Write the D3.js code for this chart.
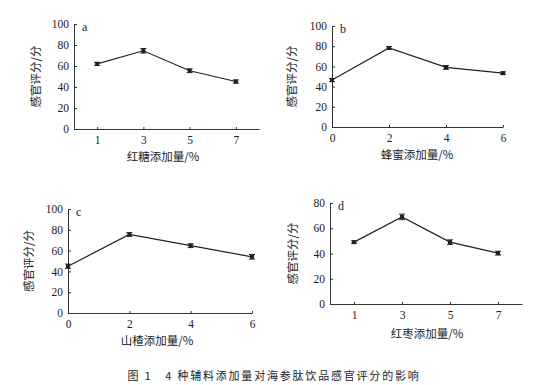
<!DOCTYPE html>
<html>
<head>
<meta charset="utf-8">
<script src="https://cdn.jsdelivr.net/npm/d3@7"></script>
<style>
  body { margin: 0; background: #fff; }
  svg text { fill: #222; }
  .num { font-family: "Liberation Serif", "Times New Roman", serif; font-size: 11px; }
  .cjk { font-family: "Noto Sans CJK SC", sans-serif; font-size: 11.5px; }
</style>
</head>
<body>
<svg id="chart" width="554" height="385"></svg>
<script>
// 数据
const sugarX = [1, 3, 5, 7];
const sugarY = [62, 74.5, 55.5, 45.2];
const sugarErr = [1.5, 2.2, 1.8, 1.5];

const honeyX = [0, 2, 4, 6];
const honeyY = [46.5, 78.3, 59, 53.3];
const honeyErr = [1.6, 1.2, 1.8, 1.2];

const hawX = [0, 2, 4, 6];
const hawY = [45, 75.5, 64.7, 54];
const hawErr = [2, 1.8, 1.8, 2.2];

const dateX = [1, 3, 5, 7];
const dateY = [49, 69, 49, 40.3];
const dateErr = [1, 2.2, 1.8, 1.5];

const yTicks100 = [0, 20, 40, 60, 80, 100];
const yTicks80 = [0, 20, 40, 60, 80];

const yTitle = '感官评分/分';
const caption = '图 1　4 种辅料添加量对海参肽饮品感官评分的影响';

// 面板布局
const panels = [
  { letter: 'a', xs: sugarX, ys: sugarY, err: sugarErr, xMax: 8, yMax: 100, yTicks: yTicks100,
    xTitle: '红糖添加量/%', left: 74, right: 259, top: 24, bottom: 129, yTitleX: 40, xTitleX: 163, xTitleDy: 32 },
  { letter: 'b', xs: honeyX, ys: honeyY, err: honeyErr, xMax: 6, yMax: 100, yTicks: yTicks100,
    xTitle: '蜂蜜添加量/%', left: 332, right: 503, top: 26, bottom: 127, yTitleX: 296, xTitleX: 417, xTitleDy: 32 },
  { letter: 'c', xs: hawX, ys: hawY, err: hawErr, xMax: 6, yMax: 100, yTicks: yTicks100,
    xTitle: '山楂添加量/%', left: 68, right: 252, top: 209, bottom: 313, yTitleX: 33, xTitleX: 157, xTitleDy: 32 },
  { letter: 'd', xs: dateX, ys: dateY, err: dateErr, xMax: 8, yMax: 80, yTicks: yTicks80,
    xTitle: '红枣添加量/%', left: 330, right: 522, top: 203, bottom: 304, yTitleX: 297, xTitleX: 427, xTitleDy: 34 }
];

const svg = d3.select('#chart');

panels.forEach(p => drawPanel(p));

svg.append('text')
  .attr('class', 'cjk')
  .attr('x', 274)
  .attr('y', 380)
  .attr('text-anchor', 'middle')
  .style('font-size', '11px')
  .style('letter-spacing', '1.8px')
  .text(caption);

function drawPanel(p) {
  const g = svg.append('g');
  const x = d3.scaleLinear().domain([0, p.xMax]).range([p.left, p.right]);
  const y = d3.scaleLinear().domain([0, p.yMax]).range([p.bottom, p.top]);

  // 坐标轴
  const xAxis = g.append('g')
    .attr('transform', `translate(0,${p.bottom})`)
    .call(d3.axisBottom(x).tickValues(p.xs).tickFormat(d3.format('d'))
      .tickSizeInner(-2).tickSizeOuter(0).tickPadding(7));
  const yAxis = g.append('g')
    .attr('transform', `translate(${p.left},0)`)
    .call(d3.axisLeft(y).tickValues(p.yTicks).tickFormat(d3.format('d'))
      .tickSizeInner(-3).tickSizeOuter(0).tickPadding(5));

  [xAxis, yAxis].forEach(a => {
    a.selectAll('path, line').attr('stroke', '#333').attr('stroke-width', 1);
    a.selectAll('text').attr('class', 'num').attr('fill', '#222').style('font-size', '11.5px');
    a.attr('font-family', null).attr('font-size', null);
  });

  // 折线
  const pts = p.xs.map((v, i) => [v, p.ys[i], p.err[i]]);
  g.append('path')
    .datum(pts)
    .attr('fill', 'none')
    .attr('stroke', '#222')
    .attr('stroke-width', 1.2)
    .attr('d', d3.line().x(d => x(d[0])).y(d => y(d[1])));

  // 误差线
  const eb = g.append('g').selectAll('g').data(pts).enter().append('g');
  eb.append('line')
    .attr('x1', d => x(d[0])).attr('x2', d => x(d[0]))
    .attr('y1', d => y(d[1] - d[2])).attr('y2', d => y(d[1] + d[2]))
    .attr('stroke', '#222');
  [-1, 1].forEach(s => {
    eb.append('line')
      .attr('x1', d => x(d[0]) - 3).attr('x2', d => x(d[0]) + 3)
      .attr('y1', d => y(d[1] + s * d[2])).attr('y2', d => y(d[1] + s * d[2]))
      .attr('stroke', '#222');
  });
  eb.append('rect')
    .attr('x', d => x(d[0]) - 2).attr('y', d => y(d[1]) - 2)
    .attr('width', 4).attr('height', 4)
    .attr('fill', '#222');

  // 标签
  g.append('text')
    .attr('class', 'cjk')
    .attr('x', p.xTitleX)
    .attr('y', p.bottom + p.xTitleDy)
    .attr('text-anchor', 'middle')
    .text(p.xTitle);

  g.append('text')
    .attr('class', 'cjk')
    .attr('transform', `translate(${p.yTitleX},${(p.top + p.bottom) / 2}) rotate(-90)`)
    .attr('text-anchor', 'middle')
    .text(yTitle);

  g.append('text')
    .attr('class', 'num')
    .attr('x', p.left + 8)
    .attr('y', p.top + 7)
    .style('font-size', '12px')
    .text(p.letter);
}
</script>
</body>
</html>
